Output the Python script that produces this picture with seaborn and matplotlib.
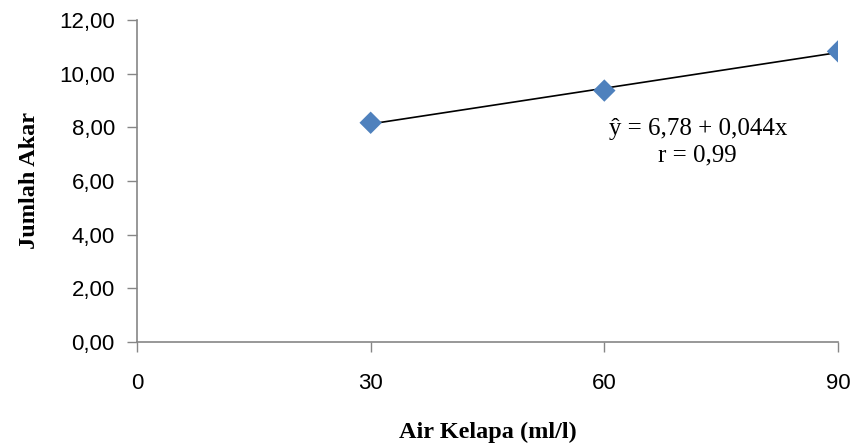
import matplotlib
matplotlib.use("Agg")
import matplotlib.pyplot as plt
import numpy as np
import pandas as pd
import seaborn as sns
from matplotlib.ticker import FuncFormatter

# data
air_kelapa = [30, 60, 90]
jumlah_akar = [8.17, 9.37, 10.83]
x_ticks = [0, 30, 60, 90]
y_ticks = [0, 2, 4, 6, 8, 10, 12]
equation = "ŷ = 6,78 + 0,044x\nr = 0,99"

df = pd.DataFrame({"x": air_kelapa, "y": jumlah_akar})

sns.set_style("white")
plt.rcParams["font.family"] = ["Liberation Sans", "DejaVu Sans"]
plt.rcParams["text.color"] = "black"
plt.rcParams["axes.labelcolor"] = "black"
plt.rcParams["xtick.color"] = "black"
plt.rcParams["ytick.color"] = "black"

fig = plt.figure(figsize=(8.53, 4.44), dpi=100)
ax = fig.add_axes([0.1606, 0.2297, 0.8218, 0.7253])

# trend line (linear fit) then the points
sns.regplot(x="x", y="y", data=df, ax=ax, scatter=False, ci=None,
            line_kws={"color": "black", "lw": 1.2, "zorder": 2})
sns.scatterplot(x="x", y="y", data=df, ax=ax, marker="D", s=130,
                color="#4F81BD", edgecolor="none", zorder=3)

ax.set_xlim(0, 90)
ax.set_ylim(0, 12)
ax.set_xticks(x_ticks)
ax.set_yticks(y_ticks)
ax.yaxis.set_major_formatter(FuncFormatter(lambda v, p: f"{v:.2f}".replace(".", ",")))
ax.tick_params(axis="y", direction="out", length=7, width=1, color="#868686",
               labelcolor="black", labelsize=16, pad=9, left=True)
ax.tick_params(axis="x", direction="out", length=7, width=1, color="#868686",
               labelcolor="black", labelsize=16, pad=15, bottom=True)

for s in ["top", "right"]:
    ax.spines[s].set_visible(False)
for s in ["left", "bottom"]:
    ax.spines[s].set_color("#868686")
    ax.spines[s].set_linewidth(1.2)

ax.set_xlabel("Air Kelapa (ml/l)", fontsize=17.5, fontweight="bold",
              family="Liberation Serif", labelpad=20, color="black")
ax.set_ylabel("Jumlah Akar", fontsize=17.5, fontweight="bold",
              family="Liberation Serif", labelpad=14, color="black")

ax.text(72.0, 7.45, equation, ha="center", va="center", fontsize=18,
        family="Liberation Serif", linespacing=1.25, color="black")

fig.savefig("out.png", dpi=100)
